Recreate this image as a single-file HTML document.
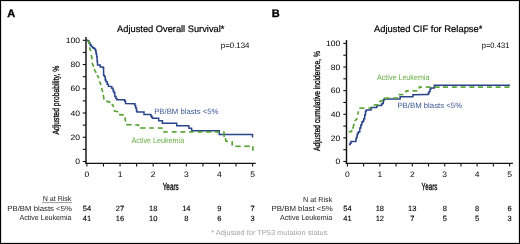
<!DOCTYPE html><html><head><meta charset="utf-8"><style>html,body{margin:0;padding:0;background:#fff;}svg{display:block;will-change:transform;}text{font-family:'Liberation Sans', sans-serif;text-rendering:geometricPrecision;}</style></head><body>
<svg width="520" height="244" viewBox="0 0 520 244">
<rect x="0" y="0" width="520" height="244" fill="#fff"/>
<text x="7.2" y="16.6" font-size="11" text-anchor="start" fill="#000" stroke="#000" stroke-width="0.35" font-weight="bold" >A</text>
<text x="271.8" y="16.6" font-size="11" text-anchor="start" fill="#000" stroke="#000" stroke-width="0.35" font-weight="bold" >B</text>
<text x="117.1" y="31.5" font-size="9.4" text-anchor="start" fill="#000" stroke="#000" stroke-width="0.2" textLength="107.3" lengthAdjust="spacingAndGlyphs" >Adjusted Overall Survival*</text>
<text x="374.0" y="31.6" font-size="9.4" text-anchor="start" fill="#000" stroke="#000" stroke-width="0.2" textLength="108.4" lengthAdjust="spacingAndGlyphs" >Adjusted CIF for Relapse*</text>
<text x="220.8" y="47.6" font-size="7.9" text-anchor="start" fill="#000" textLength="28.7" lengthAdjust="spacingAndGlyphs" >p=0.134</text>
<text x="481.7" y="48.1" font-size="7.9" text-anchor="start" fill="#000" textLength="27.7" lengthAdjust="spacingAndGlyphs" >p=0.431</text>
<line x1="86.0" y1="37.1" x2="86.0" y2="164.04999999999998" stroke="#111" stroke-width="1.45"/>
<line x1="85.3" y1="163.35" x2="255.7" y2="163.35" stroke="#111" stroke-width="1.3"/>
<line x1="82.8" y1="161.50" x2="86.0" y2="161.50" stroke="#111" stroke-width="1.1"/>
<text x="80.1" y="164.20" font-size="7.8" text-anchor="end" fill="#000" textLength="4.77" lengthAdjust="spacingAndGlyphs" >0</text>
<line x1="82.8" y1="149.38" x2="86.0" y2="149.38" stroke="#111" stroke-width="1.1"/>
<line x1="82.8" y1="137.26" x2="86.0" y2="137.26" stroke="#111" stroke-width="1.1"/>
<text x="80.1" y="139.96" font-size="7.8" text-anchor="end" fill="#000" textLength="9.54" lengthAdjust="spacingAndGlyphs" >20</text>
<line x1="82.8" y1="125.14" x2="86.0" y2="125.14" stroke="#111" stroke-width="1.1"/>
<line x1="82.8" y1="113.02" x2="86.0" y2="113.02" stroke="#111" stroke-width="1.1"/>
<text x="80.1" y="115.72" font-size="7.8" text-anchor="end" fill="#000" textLength="9.54" lengthAdjust="spacingAndGlyphs" >40</text>
<line x1="82.8" y1="100.90" x2="86.0" y2="100.90" stroke="#111" stroke-width="1.1"/>
<line x1="82.8" y1="88.78" x2="86.0" y2="88.78" stroke="#111" stroke-width="1.1"/>
<text x="80.1" y="91.48" font-size="7.8" text-anchor="end" fill="#000" textLength="9.54" lengthAdjust="spacingAndGlyphs" >60</text>
<line x1="82.8" y1="76.66" x2="86.0" y2="76.66" stroke="#111" stroke-width="1.1"/>
<line x1="82.8" y1="64.54" x2="86.0" y2="64.54" stroke="#111" stroke-width="1.1"/>
<text x="80.1" y="67.24" font-size="7.8" text-anchor="end" fill="#000" textLength="9.54" lengthAdjust="spacingAndGlyphs" >80</text>
<line x1="82.8" y1="52.42" x2="86.0" y2="52.42" stroke="#111" stroke-width="1.1"/>
<line x1="82.8" y1="40.30" x2="86.0" y2="40.30" stroke="#111" stroke-width="1.1"/>
<text x="80.1" y="43.00" font-size="7.8" text-anchor="end" fill="#000" textLength="14.31" lengthAdjust="spacingAndGlyphs" >100</text>
<line x1="86.90" y1="163.35" x2="86.90" y2="166.54999999999998" stroke="#111" stroke-width="1.1"/>
<text x="86.90" y="176.6" font-size="7.9" text-anchor="middle" fill="#000" textLength="4.74" lengthAdjust="spacingAndGlyphs" >0</text>
<line x1="103.47" y1="163.35" x2="103.47" y2="166.54999999999998" stroke="#111" stroke-width="1.1"/>
<line x1="120.04" y1="163.35" x2="120.04" y2="166.54999999999998" stroke="#111" stroke-width="1.1"/>
<text x="120.04" y="176.6" font-size="7.9" text-anchor="middle" fill="#000" textLength="4.74" lengthAdjust="spacingAndGlyphs" >1</text>
<line x1="136.61" y1="163.35" x2="136.61" y2="166.54999999999998" stroke="#111" stroke-width="1.1"/>
<line x1="153.18" y1="163.35" x2="153.18" y2="166.54999999999998" stroke="#111" stroke-width="1.1"/>
<text x="153.18" y="176.6" font-size="7.9" text-anchor="middle" fill="#000" textLength="4.74" lengthAdjust="spacingAndGlyphs" >2</text>
<line x1="169.75" y1="163.35" x2="169.75" y2="166.54999999999998" stroke="#111" stroke-width="1.1"/>
<line x1="186.32" y1="163.35" x2="186.32" y2="166.54999999999998" stroke="#111" stroke-width="1.1"/>
<text x="186.32" y="176.6" font-size="7.9" text-anchor="middle" fill="#000" textLength="4.74" lengthAdjust="spacingAndGlyphs" >3</text>
<line x1="202.89" y1="163.35" x2="202.89" y2="166.54999999999998" stroke="#111" stroke-width="1.1"/>
<line x1="219.46" y1="163.35" x2="219.46" y2="166.54999999999998" stroke="#111" stroke-width="1.1"/>
<text x="219.46" y="176.6" font-size="7.9" text-anchor="middle" fill="#000" textLength="4.74" lengthAdjust="spacingAndGlyphs" >4</text>
<line x1="236.03" y1="163.35" x2="236.03" y2="166.54999999999998" stroke="#111" stroke-width="1.1"/>
<line x1="252.60" y1="163.35" x2="252.60" y2="166.54999999999998" stroke="#111" stroke-width="1.1"/>
<text x="252.60" y="176.6" font-size="7.9" text-anchor="middle" fill="#000" textLength="4.74" lengthAdjust="spacingAndGlyphs" >5</text>
<line x1="346.5" y1="40.1" x2="346.5" y2="164.04999999999998" stroke="#111" stroke-width="1.45"/>
<line x1="345.8" y1="163.35" x2="512.9" y2="163.35" stroke="#111" stroke-width="1.3"/>
<line x1="343.3" y1="161.50" x2="346.5" y2="161.50" stroke="#111" stroke-width="1.1"/>
<text x="340.4" y="164.20" font-size="7.8" text-anchor="end" fill="#000" textLength="4.77" lengthAdjust="spacingAndGlyphs" >0</text>
<line x1="343.3" y1="149.69" x2="346.5" y2="149.69" stroke="#111" stroke-width="1.1"/>
<line x1="343.3" y1="137.88" x2="346.5" y2="137.88" stroke="#111" stroke-width="1.1"/>
<text x="340.4" y="140.58" font-size="7.8" text-anchor="end" fill="#000" textLength="9.54" lengthAdjust="spacingAndGlyphs" >20</text>
<line x1="343.3" y1="126.07" x2="346.5" y2="126.07" stroke="#111" stroke-width="1.1"/>
<line x1="343.3" y1="114.26" x2="346.5" y2="114.26" stroke="#111" stroke-width="1.1"/>
<text x="340.4" y="116.96" font-size="7.8" text-anchor="end" fill="#000" textLength="9.54" lengthAdjust="spacingAndGlyphs" >40</text>
<line x1="343.3" y1="102.45" x2="346.5" y2="102.45" stroke="#111" stroke-width="1.1"/>
<line x1="343.3" y1="90.64" x2="346.5" y2="90.64" stroke="#111" stroke-width="1.1"/>
<text x="340.4" y="93.34" font-size="7.8" text-anchor="end" fill="#000" textLength="9.54" lengthAdjust="spacingAndGlyphs" >60</text>
<line x1="343.3" y1="78.83" x2="346.5" y2="78.83" stroke="#111" stroke-width="1.1"/>
<line x1="343.3" y1="67.02" x2="346.5" y2="67.02" stroke="#111" stroke-width="1.1"/>
<text x="340.4" y="69.72" font-size="7.8" text-anchor="end" fill="#000" textLength="9.54" lengthAdjust="spacingAndGlyphs" >80</text>
<line x1="343.3" y1="55.21" x2="346.5" y2="55.21" stroke="#111" stroke-width="1.1"/>
<line x1="343.3" y1="43.40" x2="346.5" y2="43.40" stroke="#111" stroke-width="1.1"/>
<text x="340.4" y="46.10" font-size="7.8" text-anchor="end" fill="#000" textLength="14.31" lengthAdjust="spacingAndGlyphs" >100</text>
<line x1="347.40" y1="163.35" x2="347.40" y2="166.54999999999998" stroke="#111" stroke-width="1.1"/>
<text x="347.40" y="176.6" font-size="7.9" text-anchor="middle" fill="#000" textLength="4.74" lengthAdjust="spacingAndGlyphs" >0</text>
<line x1="363.62" y1="163.35" x2="363.62" y2="166.54999999999998" stroke="#111" stroke-width="1.1"/>
<line x1="379.84" y1="163.35" x2="379.84" y2="166.54999999999998" stroke="#111" stroke-width="1.1"/>
<text x="379.84" y="176.6" font-size="7.9" text-anchor="middle" fill="#000" textLength="4.74" lengthAdjust="spacingAndGlyphs" >1</text>
<line x1="396.06" y1="163.35" x2="396.06" y2="166.54999999999998" stroke="#111" stroke-width="1.1"/>
<line x1="412.28" y1="163.35" x2="412.28" y2="166.54999999999998" stroke="#111" stroke-width="1.1"/>
<text x="412.28" y="176.6" font-size="7.9" text-anchor="middle" fill="#000" textLength="4.74" lengthAdjust="spacingAndGlyphs" >2</text>
<line x1="428.50" y1="163.35" x2="428.50" y2="166.54999999999998" stroke="#111" stroke-width="1.1"/>
<line x1="444.72" y1="163.35" x2="444.72" y2="166.54999999999998" stroke="#111" stroke-width="1.1"/>
<text x="444.72" y="176.6" font-size="7.9" text-anchor="middle" fill="#000" textLength="4.74" lengthAdjust="spacingAndGlyphs" >3</text>
<line x1="460.94" y1="163.35" x2="460.94" y2="166.54999999999998" stroke="#111" stroke-width="1.1"/>
<line x1="477.16" y1="163.35" x2="477.16" y2="166.54999999999998" stroke="#111" stroke-width="1.1"/>
<text x="477.16" y="176.6" font-size="7.9" text-anchor="middle" fill="#000" textLength="4.74" lengthAdjust="spacingAndGlyphs" >4</text>
<line x1="493.38" y1="163.35" x2="493.38" y2="166.54999999999998" stroke="#111" stroke-width="1.1"/>
<line x1="509.60" y1="163.35" x2="509.60" y2="166.54999999999998" stroke="#111" stroke-width="1.1"/>
<text x="509.60" y="176.6" font-size="7.9" text-anchor="middle" fill="#000" textLength="4.74" lengthAdjust="spacingAndGlyphs" >5</text>
<text x="162.7" y="189.6" font-size="10.2" text-anchor="start" fill="#000" stroke="#000" stroke-width="0.3" textLength="16.1" lengthAdjust="spacingAndGlyphs" >Years</text>
<text x="421.6" y="189.6" font-size="10.2" text-anchor="start" fill="#000" stroke="#000" stroke-width="0.3" textLength="15.9" lengthAdjust="spacingAndGlyphs" >Years</text>
<text x="0" y="0" font-size="9" transform="translate(59.4,134.6) rotate(-90)" fill="#000" stroke="#000" stroke-width="0.3" textLength="68.9" lengthAdjust="spacingAndGlyphs">Adjusted probability, %</text>
<text x="0" y="0" font-size="9" transform="translate(320.3,151.0) rotate(-90)" fill="#000" stroke="#000" stroke-width="0.3" textLength="99.9" lengthAdjust="spacingAndGlyphs">Adjusted cumulative incidence, %</text>
<path d="M87.00,40.30 L87.60,40.30 L87.60,40.80 L88.90,40.80 L88.90,42.90 L90.10,42.90 L90.10,44.90 L91.30,44.90 L91.30,46.60 L92.60,46.60 L92.60,47.80 L93.80,47.80 L93.80,48.60 L95.00,48.60 L95.00,49.80 L95.80,49.80 L95.80,51.90 L96.20,51.90 L96.20,54.30 L96.70,54.30 L96.70,56.80 L97.10,56.80 L97.10,61.30 L97.50,61.30 L97.50,65.00 L99.90,65.00 L99.90,65.50 L100.30,65.50 L100.30,67.00 L102.80,67.00 L102.80,67.40 L103.20,67.40 L103.20,67.80 L103.60,67.80 L103.60,75.20 L104.40,75.20 L104.40,76.40 L105.20,76.40 L105.20,80.10 L106.00,80.10 L106.00,81.70 L107.20,81.70 L107.20,84.20 L108.40,84.20 L108.40,86.40 L111.30,86.60 L111.70,86.60 L111.70,88.30 L113.00,88.30 L113.00,90.80 L113.80,90.80 L113.80,92.40 L114.80,92.40 L114.80,96.50 L116.00,96.50 L116.00,98.60 L116.90,98.60 L116.90,99.80 L124.20,99.80 L124.60,99.80 L124.60,101.00 L125.50,101.00 L125.50,103.60 L134.10,103.80 L134.90,103.80 L134.90,105.50 L135.70,105.50 L135.70,108.00 L136.50,108.00 L136.50,110.90 L137.00,110.90 L137.00,112.00 L143.20,112.10 L144.00,112.10 L144.00,114.40 L150.10,114.50 L150.90,114.50 L150.90,116.00 L151.70,116.00 L151.70,117.20 L152.50,117.20 L152.50,118.30 L158.70,118.30 L158.70,120.80 L162.40,120.80 L162.40,123.20 L176.70,123.20 L176.70,125.70 L188.80,125.70 L189.00,128.20 L191.60,128.20 L191.80,130.80 L219.30,130.80 L219.30,134.40 L252.50,134.40 L252.50,137.40" fill="none" stroke="#29448a" stroke-width="1.5" stroke-linejoin="miter" stroke-linecap="butt"/>
<path d="M87.80,40.30 L89.70,44.10" fill="none" stroke="#55a02e" stroke-width="1.6" stroke-linejoin="miter" stroke-linecap="butt"/>
<path d="M89.40,47.40 L90.90,51.10" fill="none" stroke="#55a02e" stroke-width="1.6" stroke-linejoin="miter" stroke-linecap="butt"/>
<path d="M91.30,54.80 L92.10,59.30" fill="none" stroke="#55a02e" stroke-width="1.6" stroke-linejoin="miter" stroke-linecap="butt"/>
<path d="M91.90,62.90 L93.80,66.60" fill="none" stroke="#55a02e" stroke-width="1.6" stroke-linejoin="miter" stroke-linecap="butt"/>
<path d="M94.20,69.10 L96.20,72.80" fill="none" stroke="#55a02e" stroke-width="1.6" stroke-linejoin="miter" stroke-linecap="butt"/>
<path d="M97.10,75.20 L99.00,78.00" fill="none" stroke="#55a02e" stroke-width="1.6" stroke-linejoin="miter" stroke-linecap="butt"/>
<path d="M99.40,81.30 L101.10,85.00" fill="none" stroke="#55a02e" stroke-width="1.6" stroke-linejoin="miter" stroke-linecap="butt"/>
<path d="M101.50,87.90 L102.70,92.00" fill="none" stroke="#55a02e" stroke-width="1.6" stroke-linejoin="miter" stroke-linecap="butt"/>
<path d="M103.30,94.90 L104.00,99.60" fill="none" stroke="#55a02e" stroke-width="1.6" stroke-linejoin="miter" stroke-linecap="butt"/>
<path d="M106.10,101.40 L108.30,101.50 L108.50,102.00 L110.60,102.10" fill="none" stroke="#55a02e" stroke-width="1.6" stroke-linejoin="miter" stroke-linecap="butt"/>
<path d="M111.50,104.60 L112.80,105.00 L113.70,107.30" fill="none" stroke="#55a02e" stroke-width="1.6" stroke-linejoin="miter" stroke-linecap="butt"/>
<path d="M113.70,110.90 L118.20,111.70" fill="none" stroke="#55a02e" stroke-width="1.6" stroke-linejoin="miter" stroke-linecap="butt"/>
<path d="M119.10,114.60 L123.70,114.90" fill="none" stroke="#55a02e" stroke-width="1.6" stroke-linejoin="miter" stroke-linecap="butt"/>
<path d="M125.00,117.40 L125.50,121.60" fill="none" stroke="#55a02e" stroke-width="1.6" stroke-linejoin="miter" stroke-linecap="butt"/>
<path d="M126.20,124.70 L131.60,124.70" fill="none" stroke="#55a02e" stroke-width="1.6" stroke-linejoin="miter" stroke-linecap="butt"/>
<path d="M135.20,124.70 L138.50,124.90 L138.50,126.20" fill="none" stroke="#55a02e" stroke-width="1.6" stroke-linejoin="miter" stroke-linecap="butt"/>
<path d="M140.20,128.00 L145.50,128.00" fill="none" stroke="#55a02e" stroke-width="1.6" stroke-linejoin="miter" stroke-linecap="butt"/>
<path d="M149.20,128.00 L153.70,128.00" fill="none" stroke="#55a02e" stroke-width="1.6" stroke-linejoin="miter" stroke-linecap="butt"/>
<path d="M157.80,128.00 L162.70,128.10" fill="none" stroke="#55a02e" stroke-width="1.6" stroke-linejoin="miter" stroke-linecap="butt"/>
<path d="M163.20,131.90 L167.70,131.90" fill="none" stroke="#55a02e" stroke-width="1.6" stroke-linejoin="miter" stroke-linecap="butt"/>
<path d="M171.80,131.90 L176.70,131.90" fill="none" stroke="#55a02e" stroke-width="1.6" stroke-linejoin="miter" stroke-linecap="butt"/>
<path d="M180.40,131.90 L185.30,131.90" fill="none" stroke="#55a02e" stroke-width="1.6" stroke-linejoin="miter" stroke-linecap="butt"/>
<path d="M189.10,131.90 L193.60,131.90" fill="none" stroke="#55a02e" stroke-width="1.6" stroke-linejoin="miter" stroke-linecap="butt"/>
<path d="M197.70,131.90 L202.60,131.90" fill="none" stroke="#55a02e" stroke-width="1.6" stroke-linejoin="miter" stroke-linecap="butt"/>
<path d="M205.90,131.90 L211.20,131.90" fill="none" stroke="#55a02e" stroke-width="1.6" stroke-linejoin="miter" stroke-linecap="butt"/>
<path d="M214.90,131.90 L219.40,131.90" fill="none" stroke="#55a02e" stroke-width="1.6" stroke-linejoin="miter" stroke-linecap="butt"/>
<path d="M223.90,131.30 L224.10,137.00" fill="none" stroke="#55a02e" stroke-width="1.6" stroke-linejoin="miter" stroke-linecap="butt"/>
<path d="M225.40,138.20 L226.00,141.20 L227.90,141.40" fill="none" stroke="#55a02e" stroke-width="1.6" stroke-linejoin="miter" stroke-linecap="butt"/>
<path d="M232.10,141.10 L232.30,145.60" fill="none" stroke="#55a02e" stroke-width="1.6" stroke-linejoin="miter" stroke-linecap="butt"/>
<path d="M235.30,146.30 L240.70,146.30" fill="none" stroke="#55a02e" stroke-width="1.6" stroke-linejoin="miter" stroke-linecap="butt"/>
<path d="M244.30,146.30 L249.70,146.30" fill="none" stroke="#55a02e" stroke-width="1.6" stroke-linejoin="miter" stroke-linecap="butt"/>
<path d="M252.90,146.20 L252.90,150.80" fill="none" stroke="#55a02e" stroke-width="1.6" stroke-linejoin="miter" stroke-linecap="butt"/>
<path d="M348.90,144.40 L350.10,144.40 L350.10,143.20 L351.00,143.20 L351.00,141.60 L355.10,141.60 L355.90,141.60 L355.90,139.50 L356.30,139.50 L356.30,137.50 L357.10,137.50 L357.10,135.00 L357.50,135.00 L357.50,133.40 L358.30,133.40 L358.30,132.10 L359.20,132.10 L359.20,131.70 L359.80,131.70 L359.80,128.00 L360.80,128.00 L360.80,125.10 L361.80,125.10 L361.80,122.20 L362.80,122.20 L362.80,121.20 L363.70,121.20 L363.70,118.70 L364.70,118.70 L364.70,114.80 L365.50,114.80 L365.50,111.40 L366.20,111.40 L366.20,109.90 L370.40,109.90 L370.80,109.90 L370.80,108.70 L371.50,108.70 L371.50,107.60 L376.00,107.60 L376.70,107.60 L376.70,106.50 L377.10,106.50 L377.10,105.60 L380.70,105.40 L381.50,105.40 L381.50,104.00 L382.60,104.00 L382.60,103.20 L383.30,103.20 L383.30,101.00 L383.70,101.00 L383.70,99.50 L384.40,99.50 L384.40,99.10 L399.30,99.10 L400.10,99.10 L400.10,96.80 L412.40,96.80 L412.90,96.80 L412.90,94.70 L427.60,94.60 L428.40,94.60 L428.40,93.10 L429.20,93.10 L429.20,91.50 L430.10,91.50 L430.10,88.90 L430.90,88.90 L430.90,87.90 L434.30,87.90 L434.30,85.30 L510.00,85.30" fill="none" stroke="#29448a" stroke-width="1.5" stroke-linejoin="miter" stroke-linecap="butt"/>
<path d="M348.70,132.00 L351.40,131.50 L351.90,130.00" fill="none" stroke="#55a02e" stroke-width="1.6" stroke-linejoin="miter" stroke-linecap="butt"/>
<path d="M352.80,128.70 L354.10,123.70" fill="none" stroke="#55a02e" stroke-width="1.6" stroke-linejoin="miter" stroke-linecap="butt"/>
<path d="M354.60,121.00 L356.80,118.80 L356.80,117.90" fill="none" stroke="#55a02e" stroke-width="1.6" stroke-linejoin="miter" stroke-linecap="butt"/>
<path d="M357.60,114.60 L358.40,111.40" fill="none" stroke="#55a02e" stroke-width="1.6" stroke-linejoin="miter" stroke-linecap="butt"/>
<path d="M359.30,108.10 L364.50,108.10" fill="none" stroke="#55a02e" stroke-width="1.6" stroke-linejoin="miter" stroke-linecap="butt"/>
<path d="M368.40,108.10 L370.70,107.70 L372.00,106.80" fill="none" stroke="#55a02e" stroke-width="1.6" stroke-linejoin="miter" stroke-linecap="butt"/>
<path d="M373.70,104.90 L378.60,104.90" fill="none" stroke="#55a02e" stroke-width="1.6" stroke-linejoin="miter" stroke-linecap="butt"/>
<path d="M379.60,102.20 L380.20,101.10 L382.20,100.90 L382.80,99.90" fill="none" stroke="#55a02e" stroke-width="1.6" stroke-linejoin="miter" stroke-linecap="butt"/>
<path d="M383.80,98.20 L389.60,98.10" fill="none" stroke="#55a02e" stroke-width="1.6" stroke-linejoin="miter" stroke-linecap="butt"/>
<path d="M393.30,98.00 L398.00,98.00" fill="none" stroke="#55a02e" stroke-width="1.6" stroke-linejoin="miter" stroke-linecap="butt"/>
<path d="M398.50,94.60 L403.40,94.60" fill="none" stroke="#55a02e" stroke-width="1.6" stroke-linejoin="miter" stroke-linecap="butt"/>
<path d="M405.50,92.30 L406.30,90.90 L408.80,90.90" fill="none" stroke="#55a02e" stroke-width="1.6" stroke-linejoin="miter" stroke-linecap="butt"/>
<path d="M412.40,90.90 L417.40,90.90" fill="none" stroke="#55a02e" stroke-width="1.6" stroke-linejoin="miter" stroke-linecap="butt"/>
<path d="M419.00,88.60 L419.40,87.10 L421.90,87.10" fill="none" stroke="#55a02e" stroke-width="1.6" stroke-linejoin="miter" stroke-linecap="butt"/>
<path d="M425.80,87.10 L430.80,87.10" fill="none" stroke="#55a02e" stroke-width="1.6" stroke-linejoin="miter" stroke-linecap="butt"/>
<path d="M434.60,87.10 L439.70,87.10" fill="none" stroke="#55a02e" stroke-width="1.6" stroke-linejoin="miter" stroke-linecap="butt"/>
<path d="M442.90,87.10 L448.00,87.10" fill="none" stroke="#55a02e" stroke-width="1.6" stroke-linejoin="miter" stroke-linecap="butt"/>
<path d="M451.90,87.10 L456.90,87.10" fill="none" stroke="#55a02e" stroke-width="1.6" stroke-linejoin="miter" stroke-linecap="butt"/>
<path d="M460.60,87.10 L465.60,87.10" fill="none" stroke="#55a02e" stroke-width="1.6" stroke-linejoin="miter" stroke-linecap="butt"/>
<path d="M469.40,87.10 L474.40,87.10" fill="none" stroke="#55a02e" stroke-width="1.6" stroke-linejoin="miter" stroke-linecap="butt"/>
<path d="M478.00,87.10 L483.00,87.10" fill="none" stroke="#55a02e" stroke-width="1.6" stroke-linejoin="miter" stroke-linecap="butt"/>
<path d="M486.90,87.10 L491.90,87.10" fill="none" stroke="#55a02e" stroke-width="1.6" stroke-linejoin="miter" stroke-linecap="butt"/>
<path d="M495.60,87.10 L500.60,87.10" fill="none" stroke="#55a02e" stroke-width="1.6" stroke-linejoin="miter" stroke-linecap="butt"/>
<path d="M504.40,87.10 L509.40,87.10" fill="none" stroke="#55a02e" stroke-width="1.6" stroke-linejoin="miter" stroke-linecap="butt"/>
<text x="154.2" y="113.6" font-size="7.7" text-anchor="start" fill="#3a5694" textLength="64.3" lengthAdjust="spacingAndGlyphs" >PB/BM blasts &lt;5%</text>
<text x="131.5" y="142.9" font-size="7.9" text-anchor="start" fill="#66ac42" textLength="52.7" lengthAdjust="spacingAndGlyphs" >Active Leukemia</text>
<text x="377.0" y="80.4" font-size="7.9" text-anchor="start" fill="#66ac42" textLength="52.4" lengthAdjust="spacingAndGlyphs" >Active Leukemia</text>
<text x="397.4" y="107.8" font-size="7.7" text-anchor="start" fill="#3a5694" textLength="64.7" lengthAdjust="spacingAndGlyphs" >PB/BM blasts &lt;5%</text>
<text x="42.7" y="201.2" font-size="7.2" text-anchor="start" fill="#222" textLength="28.7" lengthAdjust="spacingAndGlyphs" >N at Risk</text>
<line x1="42.1" y1="202.6" x2="72" y2="202.6" stroke="#333" stroke-width="0.5"/>
<text x="7.3" y="211.1" font-size="7.4" text-anchor="start" fill="#222" textLength="64.6" lengthAdjust="spacingAndGlyphs" >PB/BM blasts &lt;5%</text>
<text x="19.4" y="220.3" font-size="7.4" text-anchor="start" fill="#222" textLength="52.1" lengthAdjust="spacingAndGlyphs" >Active Leukemia</text>
<text x="86.90" y="211.3" font-size="7.5" text-anchor="middle" fill="#000" stroke="#000" stroke-width="0.12" >54</text>
<text x="120.04" y="211.3" font-size="7.5" text-anchor="middle" fill="#000" stroke="#000" stroke-width="0.12" >27</text>
<text x="153.18" y="211.3" font-size="7.5" text-anchor="middle" fill="#000" stroke="#000" stroke-width="0.12" >18</text>
<text x="186.32" y="211.3" font-size="7.5" text-anchor="middle" fill="#000" stroke="#000" stroke-width="0.12" >14</text>
<text x="219.46" y="211.3" font-size="7.5" text-anchor="middle" fill="#000" stroke="#000" stroke-width="0.12" >9</text>
<text x="252.60" y="211.3" font-size="7.5" text-anchor="middle" fill="#000" stroke="#000" stroke-width="0.12" >7</text>
<text x="86.90" y="220.5" font-size="7.5" text-anchor="middle" fill="#000" stroke="#000" stroke-width="0.12" >41</text>
<text x="120.04" y="220.5" font-size="7.5" text-anchor="middle" fill="#000" stroke="#000" stroke-width="0.12" >16</text>
<text x="153.18" y="220.5" font-size="7.5" text-anchor="middle" fill="#000" stroke="#000" stroke-width="0.12" >10</text>
<text x="186.32" y="220.5" font-size="7.5" text-anchor="middle" fill="#000" stroke="#000" stroke-width="0.12" >8</text>
<text x="219.46" y="220.5" font-size="7.5" text-anchor="middle" fill="#000" stroke="#000" stroke-width="0.12" >6</text>
<text x="252.60" y="220.5" font-size="7.5" text-anchor="middle" fill="#000" stroke="#000" stroke-width="0.12" >3</text>
<text x="303.1" y="201.5" font-size="7.2" text-anchor="start" fill="#222" textLength="29.2" lengthAdjust="spacingAndGlyphs" >N at Risk</text>
<text x="271.5" y="210.8" font-size="7.4" text-anchor="start" fill="#222" textLength="61.3" lengthAdjust="spacingAndGlyphs" >PB/BM blast &lt;5%</text>
<text x="280.0" y="220.0" font-size="7.4" text-anchor="start" fill="#222" textLength="52.3" lengthAdjust="spacingAndGlyphs" >Active Leukemia</text>
<text x="347.40" y="211.3" font-size="7.5" text-anchor="middle" fill="#000" stroke="#000" stroke-width="0.12" >54</text>
<text x="379.84" y="211.3" font-size="7.5" text-anchor="middle" fill="#000" stroke="#000" stroke-width="0.12" >18</text>
<text x="412.28" y="211.3" font-size="7.5" text-anchor="middle" fill="#000" stroke="#000" stroke-width="0.12" >13</text>
<text x="444.72" y="211.3" font-size="7.5" text-anchor="middle" fill="#000" stroke="#000" stroke-width="0.12" >8</text>
<text x="477.16" y="211.3" font-size="7.5" text-anchor="middle" fill="#000" stroke="#000" stroke-width="0.12" >8</text>
<text x="509.60" y="211.3" font-size="7.5" text-anchor="middle" fill="#000" stroke="#000" stroke-width="0.12" >6</text>
<text x="347.40" y="220.5" font-size="7.5" text-anchor="middle" fill="#000" stroke="#000" stroke-width="0.12" >41</text>
<text x="379.84" y="220.5" font-size="7.5" text-anchor="middle" fill="#000" stroke="#000" stroke-width="0.12" >12</text>
<text x="412.28" y="220.5" font-size="7.5" text-anchor="middle" fill="#000" stroke="#000" stroke-width="0.12" >7</text>
<text x="444.72" y="220.5" font-size="7.5" text-anchor="middle" fill="#000" stroke="#000" stroke-width="0.12" >5</text>
<text x="477.16" y="220.5" font-size="7.5" text-anchor="middle" fill="#000" stroke="#000" stroke-width="0.12" >5</text>
<text x="509.60" y="220.5" font-size="7.5" text-anchor="middle" fill="#000" stroke="#000" stroke-width="0.12" >3</text>
<text x="211.25" y="235.2" font-size="7.3" text-anchor="start" fill="#a3a3ab" textLength="116.2" lengthAdjust="spacingAndGlyphs" >* Adjusted for TP53 mutation status</text>
<rect x="0.5" y="0.5" width="519" height="243" fill="none" stroke="#000" stroke-width="1"/>
<rect x="1.5" y="1.5" width="517" height="241" fill="none" stroke="#000" stroke-opacity="0.12" stroke-width="1"/>
</svg></body></html>
